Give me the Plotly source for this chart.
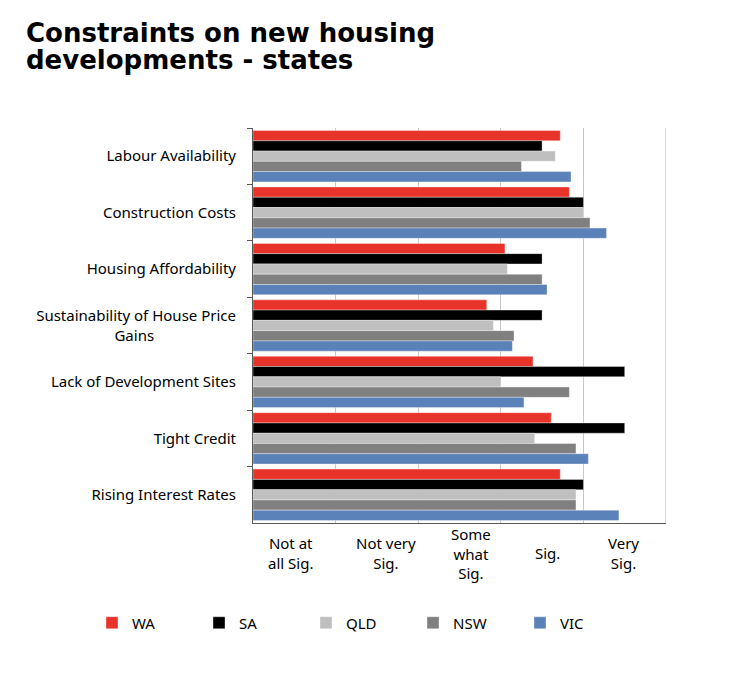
import plotly.graph_objects as go

categories = [
    "Labour Availability",
    "Construction Costs",
    "Housing Affordability",
    "Sustainability of House Price<br>Gains" + "&nbsp;" * 21,
    "Lack of Development Sites",
    "Tight Credit",
    "Rising Interest Rates",
]
states = ["WA", "SA", "QLD", "NSW", "VIC"]
wa = [3.72, 3.83, 3.05, 2.83, 3.39, 3.61, 3.72]
sa = [3.50, 4.00, 3.50, 3.50, 4.50, 4.50, 4.00]
qld = [3.66, 4.00, 3.08, 2.91, 3.00, 3.41, 3.91]
nsw = [3.25, 4.08, 3.50, 3.16, 3.83, 3.91, 3.91]
vic = [3.85, 4.28, 3.56, 3.14, 3.28, 4.06, 4.43]
series = [wa, sa, qld, nsw, vic]
colors = ["#e8332a", "#000000", "#bfbfbf", "#808080", "#5a81b8"]

tick_positions = [0.45, 1.61, 2.64, 3.56, 4.49]
tick_labels = ["Not at<br>all Sig.", "Not very<br>Sig.", "Some<br>what<br>Sig.", "Sig.", "Very<br>Sig."]
title_lines = ["Constraints on new housing", "developments - states"]

# page body has an 8px margin; figure sized to fit the 732x675 window
OFF = 8
W, H = 732 - 2 * OFF, 675 - 2 * OFF
PX0, PX1, PY0, PY1 = 253, 666, 128, 523  # plot area in window pixels
L, T = PX0 - OFF, PY0 - OFF
R, B = W - (PX1 - OFF), H - (PY1 - OFF)
PW, PH = PX1 - PX0, PY1 - PY0


def px_to_paper_x(x):
    return (x - PX0) / PW


def px_to_paper_y(y):
    return (PY1 - y) / PH


fig = go.Figure()
for name, vals, col in zip(states, series, colors):
    fig.add_trace(go.Bar(
        y=categories, x=vals, name=name, orientation="h",
        marker=dict(color=col, line=dict(color="rgba(255,255,255,0.35)", width=1)),
    ))

for tv, tt in zip(tick_positions, tick_labels):
    fig.add_annotation(
        x=tv, xref="x", y=px_to_paper_y(553), yref="paper",
        text=tt, showarrow=False, yanchor="middle", xanchor="center",
        font=dict(family="Noto Sans", size=15, color="#000000"),
    )

for line, yc in zip(title_lines, [32.5, 60]):
    fig.add_annotation(
        x=px_to_paper_x(24), xref="paper", y=px_to_paper_y(yc), yref="paper",
        text="<b>" + line + "</b>", showarrow=False, xanchor="left", yanchor="middle",
        font=dict(family="DejaVu Sans", size=26, color="#000000"),
    )

fig.add_shape(type="line", xref="x", yref="paper", x0=5, x1=5, y0=0, y1=1,
              line=dict(color="#d9d9d9", width=2), layer="below")

fig.update_layout(
    width=W, height=H,
    margin=dict(l=L, r=R, t=T, b=B),
    paper_bgcolor="white", plot_bgcolor="white",
    barmode="group", bargap=0.09, bargroupgap=0,
    font=dict(family="Noto Sans", size=15, color="#000000"),
    xaxis=dict(
        range=[0, 5], showgrid=True, gridcolor="#c8c8c8", gridwidth=1,
        showticklabels=False, ticks="", zeroline=False,
        showline=True, linecolor="#595959", linewidth=1,
        dtick=1, tick0=0, fixedrange=True,
    ),
    yaxis=dict(
        autorange="reversed", showgrid=False, zeroline=False,
        showline=True, linecolor="#595959", linewidth=1,
        ticks="outside", tickson="boundaries", ticklen=5, tickcolor="#595959",
        ticklabelstandoff=13,
        tickfont=dict(family="Noto Sans", size=15, color="#000000"),
    ),
    legend=dict(
        orientation="h", xref="paper", yref="paper",
        x=px_to_paper_x(92), y=px_to_paper_y(623), xanchor="left", yanchor="middle",
        entrywidth=62, entrywidthmode="pixels",
        font=dict(family="Noto Sans", size=15, color="#000000"),
        traceorder="normal",
    ),
)

fig.write_html("out.html")
